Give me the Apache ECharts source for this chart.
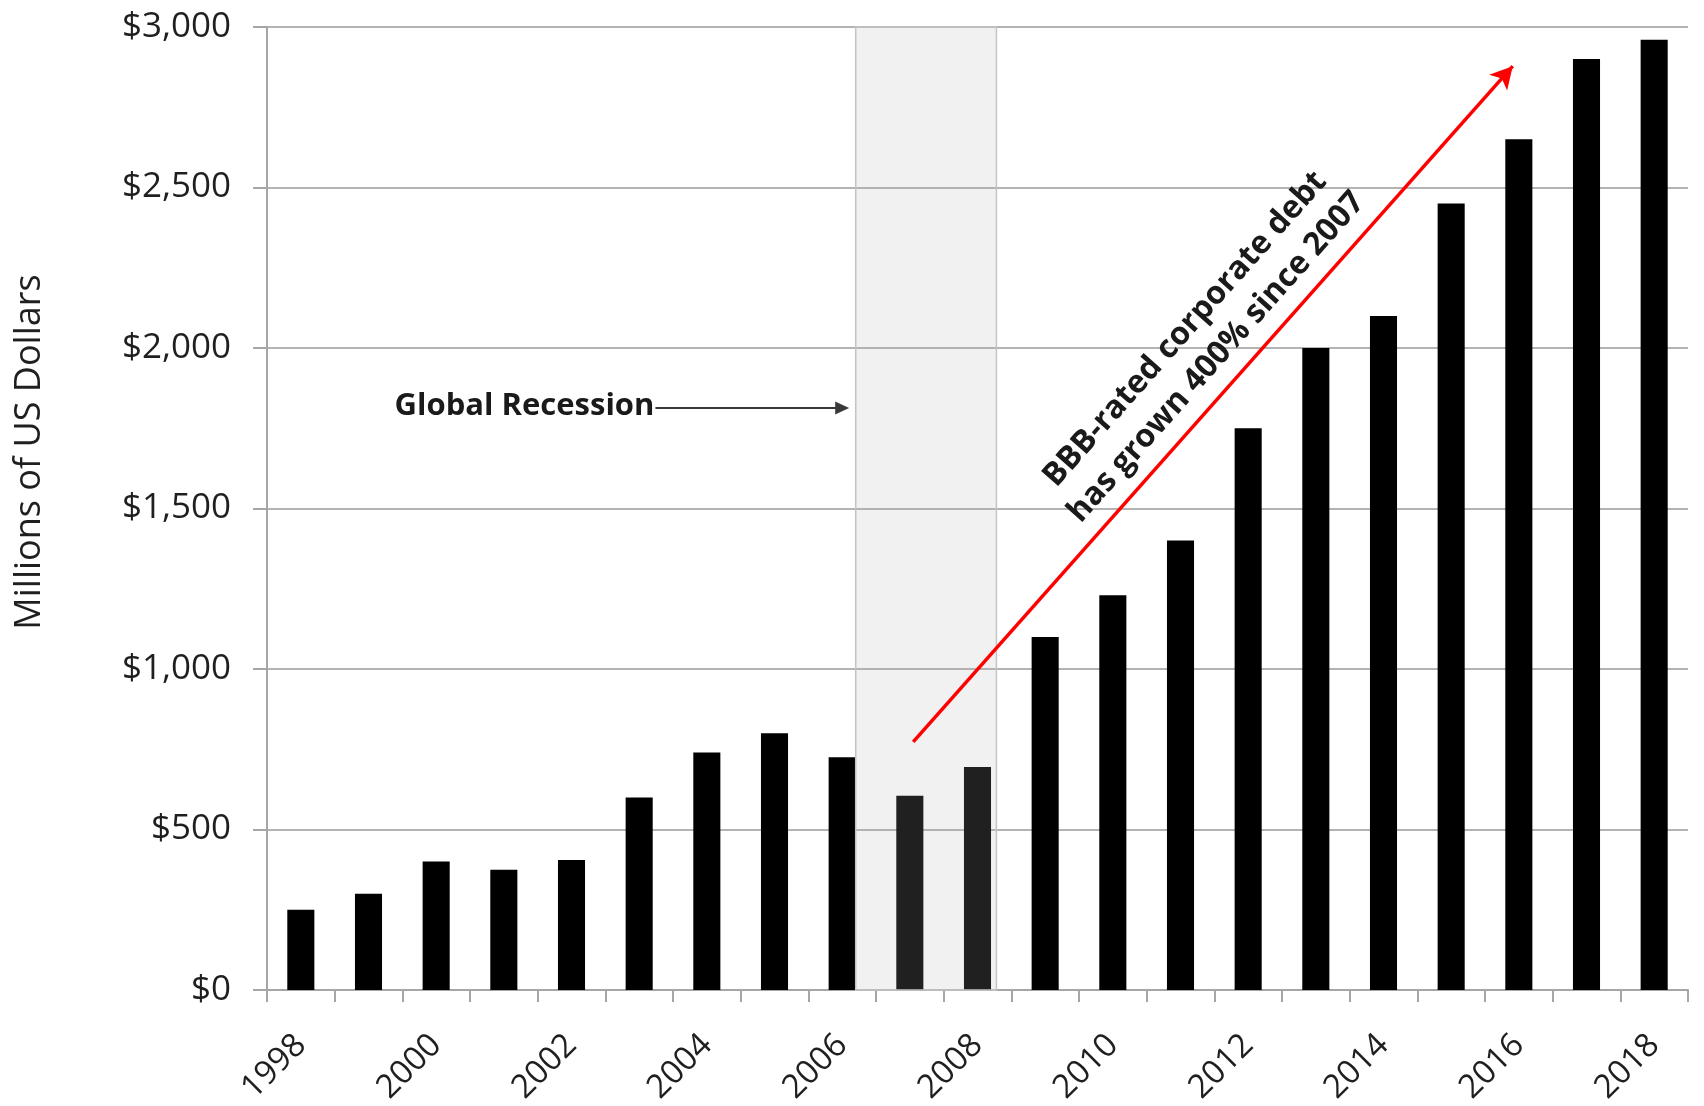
<!DOCTYPE html>
<html>
<head>
<meta charset="utf-8">
<script src="https://cdn.jsdelivr.net/npm/echarts@6/dist/echarts.min.js"></script>
<style>
html,body{margin:0;padding:0;background:#fff;}
#chart{width:1704px;height:1106px;}
</style>
</head>
<body>
<div id="chart"></div>
<script>
// BBB-rated corporate debt, millions of US dollars
var years = ['1998','1999','2000','2001','2002','2003','2004','2005','2006','2007','2008',
	'2009','2010','2011','2012','2013','2014','2015','2016','2017','2018'];
var debt = [250, 300, 400, 375, 405, 600, 740, 800, 725, 605, 695,
	1100, 1230, 1400, 1750, 2000, 2100, 2450, 2650, 2900, 2960];
var yTicks = [0, 500, 1000, 1500, 2000, 2500, 3000];

// annotations, in year / value units
var recessionSpan = [2006.2, 2008.28];
var recessionArrow = [[2003.24, 1813], [2006.0, 1813]];
var growthArrow = [[2007.05, 773], [2015.91, 2878]];
var growthTextAt = [2011.3, 2015];
var recessionText = 'Global Recession';
var growthText = 'BBB-rated corporate debt\nhas grown 400% since 2007';
var yTitle = 'Millions of US Dollars';

var font = '"Open Sans", "DejaVu Sans", sans-serif';
var gridGray = '#b3b3b3';

var myChart = echarts.init(document.getElementById('chart'), null, {renderer:'canvas'});

function money(v){
	return '$' + v.toString().replace(/\B(?=(\d{3})+(?!\d))/g, ',');
}

var option = {
	animation: false,
	backgroundColor: '#fff',
	grid: {left: 267, right: 16, top: 27, bottom: 116, containLabel: false, outerBoundsMode: 'none'},
	xAxis: [
		{
			type: 'category',
			data: years,
			axisLine: {lineStyle: {color: '#a6a6a6', width: 2}},
			axisTick: {show: true, interval: 0, length: 12, lineStyle: {color: '#a6a6a6', width: 2}},
			axisLabel: {interval: 1, rotate: 45, margin: 50, fontSize: 33, color: '#1f1f1f', fontFamily: font},
			splitLine: {show: false}
		},
		{
			// hidden value axis over the same grid for the annotations
			type: 'value',
			min: 1997.5,
			max: 2018.5,
			show: false
		}
	],
	yAxis: {
		type: 'value',
		min: yTicks[0],
		max: yTicks[yTicks.length - 1],
		interval: yTicks[1] - yTicks[0],
		axisLine: {show: true, lineStyle: {color: '#a6a6a6', width: 2}},
		axisTick: {show: true, length: 14, lineStyle: {color: '#a6a6a6', width: 2}},
		axisLabel: {margin: 36, fontSize: 35, color: '#1f1f1f', fontFamily: font, formatter: money},
		splitLine: {lineStyle: {color: gridGray, width: 2}}
	},
	series: [
		{
			name: 'BBB debt',
			type: 'bar',
			data: debt,
			barWidth: '40%',
			itemStyle: {color: '#000'},
			z: 2
		},
		{
			name: 'notes',
			type: 'line',
			xAxisIndex: 1,
			yAxisIndex: 0,
			data: [],
			z: 5,
			silent: true,
			markArea: {
				silent: true,
				z: 5, // over the bars, like the shaded box in the original
				itemStyle: {color: 'rgba(180,180,180,0.18)', borderColor: '#c4c4c4', borderWidth: 1.5},
				data: [[{coord: [recessionSpan[0], yTicks[0]]}, {coord: [recessionSpan[1], yTicks[yTicks.length - 1]]}]]
			},
			markLine: {
				silent: true,
				z: 6,
				label: {show: false},
				data: [
					[{coord: recessionArrow[0], symbol: 'none', lineStyle: {color: '#3a3a3a', width: 2, type: 'solid'}},
					 {coord: recessionArrow[1], symbol: 'triangle', symbolSize: [13, 14], symbolRotate: -90}],
					[{coord: growthArrow[0], symbol: 'none', lineStyle: {color: '#ff0000', width: 3.5, type: 'solid'}},
					 {coord: growthArrow[1], symbol: 'arrow', symbolSize: [18, 22]}]
				]
			}
		}
	]
};
myChart.setOption(option);

// text placed against the data coordinates
function addNotes(){
	var pos = function(p){ return myChart.convertToPixel({xAxisIndex: 1, yAxisIndex: 0}, p); };
	var rs = pos(recessionArrow[0]);
	var g0 = pos(growthArrow[0]);
	var g1 = pos(growthArrow[1]);
	var gt = pos(growthTextAt);
	var ang = Math.atan2(g0[1] - g1[1], g1[0] - g0[0]);
	myChart.setOption({
		graphic: [
			{
				type: 'text',
				x: 30, y: 452,
				rotation: Math.PI / 2,
				style: {text: yTitle, fontSize: 36, fontFamily: font, fill: '#1f1f1f', align: 'center', verticalAlign: 'middle'}
			},
			{
				type: 'text',
				x: rs[0] - 1, y: rs[1] - 2,
				style: {text: recessionText, fontSize: 31, fontWeight: 'bold', fontFamily: font, fill: '#1a1a1a', align: 'right', verticalAlign: 'middle'}
			},
			{
				type: 'text',
				x: gt[0], y: gt[1],
				rotation: ang,
				style: {text: growthText, fontSize: 32, fontWeight: 'bold', fontFamily: font, fill: '#1a1a1a',
					align: 'center', verticalAlign: 'middle', lineHeight: 42}
			}
		]
	});
}
addNotes();
</script>
</body>
</html>
